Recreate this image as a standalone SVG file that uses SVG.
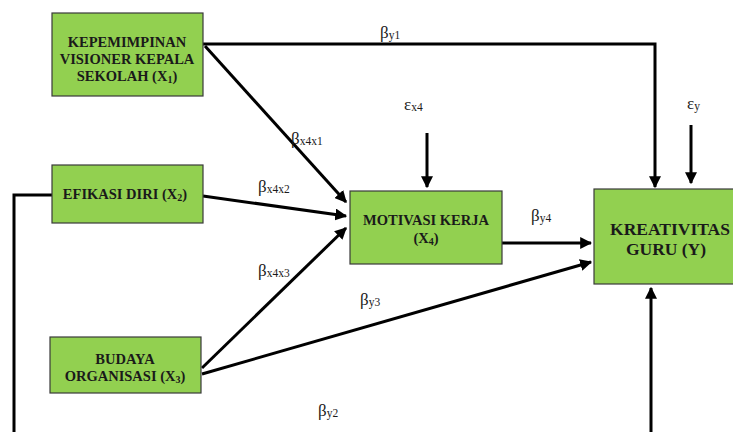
<svg xmlns="http://www.w3.org/2000/svg" width="733" height="432" viewBox="0 0 733 432">
  <style>
    .box { fill: #92d050; stroke: #3a3a3a; stroke-width: 1.2; }
    .lbl { font-family: "Liberation Serif", "Times New Roman", serif; font-weight: bold; font-size: 14.5px; fill: #1a1a1a; text-anchor: middle; }
    .big { font-size: 17.5px; }
    .coef { font-family: "Liberation Serif", "Times New Roman", serif; font-size: 17px; fill: #1a1a1a; }
    .sub { font-size: 10px; }
    .csub { font-size: 11.5px; }
    .edge { stroke: #000; stroke-width: 3; fill: none; }
  </style>
  <defs>
    <marker id="arrow" viewBox="0 0 10 10" refX="9" refY="5" markerWidth="4" markerHeight="4" orient="auto" markerUnits="strokeWidth">
      <path d="M0,0 L10,5 L0,10 z" fill="#000"/>
    </marker>
  </defs>
  <rect width="733" height="432" fill="#fff"/>

  <g id="connectors">
    <!-- X1 -> Y -->
    <polyline class="edge" points="203,44 655,44 655,187" marker-end="url(#arrow)"/>
    <!-- X1 -> X4 -->
    <line class="edge" x1="205" y1="46" x2="346" y2="202" marker-end="url(#arrow)"/>
    <!-- X2 -> X4 -->
    <line class="edge" x1="203" y1="196" x2="346" y2="216" marker-end="url(#arrow)"/>
    <!-- X3 -> X4 -->
    <line class="edge" x1="202" y1="368" x2="346" y2="228" marker-end="url(#arrow)"/>
    <!-- X3 -> Y -->
    <line class="edge" x1="202" y1="374" x2="591" y2="262" marker-end="url(#arrow)"/>
    <!-- X4 -> Y -->
    <line class="edge" x1="502" y1="243" x2="591" y2="243" marker-end="url(#arrow)"/>
    <!-- X2 -> Y (around the bottom) -->
    <polyline class="edge" points="52,195 14,195 14,434"/>
    <line class="edge" x1="651" y1="434" x2="651" y2="288" marker-end="url(#arrow)"/>
    <!-- error terms -->
    <line class="edge" x1="427" y1="133" x2="427" y2="187" marker-end="url(#arrow)"/>
    <line class="edge" x1="691" y1="125" x2="691" y2="183" marker-end="url(#arrow)"/>
  </g>

  <g id="x1">
    <rect class="box" x="52" y="13" width="151" height="83"/>
    <text class="lbl" x="127" y="47">KEPEMIMPINAN</text>
    <text class="lbl" x="127" y="64">VISIONER KEPALA</text>
    <text class="lbl" x="127" y="81">SEKOLAH (X<tspan class="sub" dy="2">1</tspan><tspan dy="-2">)</tspan></text>
  </g>
  <g id="x2">
    <rect class="box" x="52" y="165" width="151" height="58"/>
    <text class="lbl" x="125" y="199">EFIKASI DIRI (X<tspan class="sub" dy="2">2</tspan><tspan dy="-2">)</tspan></text>
  </g>
  <g id="x3">
    <rect class="box" x="50" y="337" width="151" height="56"/>
    <text class="lbl" x="125" y="364">BUDAYA</text>
    <text class="lbl" x="125" y="381">ORGANISASI (X<tspan class="sub" dy="2">3</tspan><tspan dy="-2">)</tspan></text>
  </g>
  <g id="x4">
    <rect class="box" x="350" y="191" width="152" height="73"/>
    <text class="lbl" x="426" y="225">MOTIVASI KERJA</text>
    <text class="lbl" x="426" y="243">(X<tspan class="sub" dy="2">4</tspan><tspan dy="-2">)</tspan></text>
  </g>
  <g id="y">
    <rect class="box" x="594" y="189" width="145" height="95"/>
    <text class="lbl big" x="670" y="235">KREATIVITAS</text>
    <text class="lbl big" x="666" y="255">GURU  (Y)</text>
  </g>

  <g id="coefficients">
    <text class="coef" x="380" y="38">β<tspan class="csub" dy="1">y1</tspan></text>
    <text class="coef" x="291" y="144">β<tspan class="csub" dy="1">x4x1</tspan></text>
    <text class="coef" x="258" y="192">β<tspan class="csub" dy="1">x4x2</tspan></text>
    <text class="coef" x="258" y="276">β<tspan class="csub" dy="1">x4x3</tspan></text>
    <text class="coef" x="531" y="221">β<tspan class="csub" dy="1">y4</tspan></text>
    <text class="coef" x="360" y="305">β<tspan class="csub" dy="1">y3</tspan></text>
    <text class="coef" x="318" y="416">β<tspan class="csub" dy="1">y2</tspan></text>
    <text class="coef" x="404" y="110">ε<tspan class="csub" dy="1">x4</tspan></text>
    <text class="coef" x="687" y="109">ε<tspan class="csub" dy="1">y</tspan></text>
  </g>
</svg>
